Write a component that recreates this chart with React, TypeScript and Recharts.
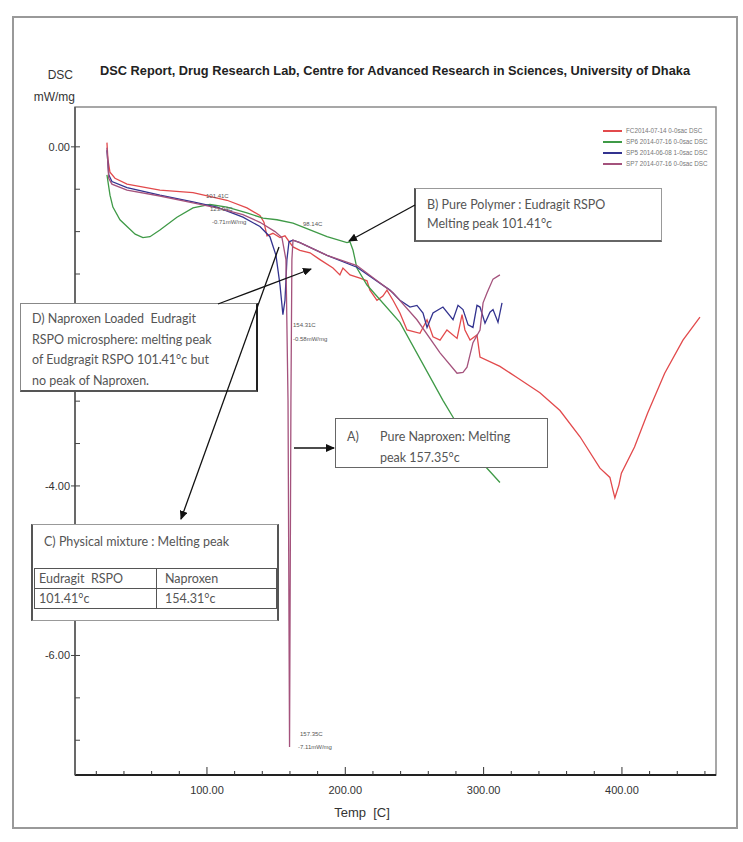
import React from 'react';
import { LineChart, Line, XAxis, YAxis, ReferenceArea, Legend } from 'recharts';

// axis ranges and ticks
const tempDomain = [4.6, 468];
const dscDomain = [-7.41, 0.47];
const tempTicks = [20, 40, 60, 80, 100, 120, 140, 160, 180, 200, 220, 240, 260, 280, 300, 320, 340, 360, 380, 400, 420, 440, 460];
const tempMajor = [100, 200, 300, 400];
const dscTicks = [0, -0.5, -1, -1.5, -2, -2.5, -3, -3.5, -4, -4.5, -5, -5.5, -6, -6.5, -7];
const dscMajor = [0, -2, -4, -6];
const dscHiddenLabels = [-2]; // covered by box D in the original

const seriesNames = [
  'FC2014-07-14 0-0sac DSC',
  'SP6 2014-07-16 0-0sac DSC',
  'SP5 2014-06-08 1-0sac DSC',
  'SP7 2014-07-16 0-0sac DSC',
];
const seriesColors = ['#e24a4c', '#3f9a47', '#33338f', '#a4527c'];

// D) naproxen loaded microsphere (red)
const microTemp = [27.7, 28.4, 29.9, 33.5, 42.2, 66.0, 89.9, 114.5, 128.9, 138.3, 141.2, 143.4, 147.7, 152.8, 156.4, 162.2, 167.2, 174.5, 181.7, 191.1, 196.1, 198.3, 203.4, 210.6, 215.7, 217.8, 222.9, 227.2, 230.1, 234.5, 239.5, 244.6, 254.0, 259.1, 263.4, 268.5, 273.5, 280.8, 284.4, 286.5, 290.2, 295.2, 297.4, 311.8, 324.1, 340.7, 355.2, 369.7, 384.1, 391.3, 393.5, 394.9, 397.8, 399.6, 409.1, 418.6, 430.9, 444.1, 456.4];
const microDsc = [0.05, -0.15, -0.30, -0.37, -0.44, -0.51, -0.54, -0.63, -0.72, -0.81, -0.89, -1.05, -1.02, -1.07, -1.05, -1.18, -1.22, -1.25, -1.33, -1.43, -1.51, -1.43, -1.51, -1.55, -1.58, -1.69, -1.81, -1.76, -1.69, -1.81, -1.96, -2.16, -2.20, -2.04, -2.24, -2.28, -2.16, -2.26, -1.98, -2.16, -2.28, -2.22, -2.48, -2.59, -2.72, -2.90, -3.11, -3.42, -3.79, -3.90, -4.05, -4.14, -3.99, -3.85, -3.54, -3.14, -2.67, -2.28, -2.01];

// B) pure polymer (green)
const polymerTemp = [27.7, 29.9, 32.0, 37.1, 42.2, 48.1, 53.7, 58.8, 66.0, 78.3, 89.9, 102.2, 114.5, 128.9, 140.5, 150.6, 162.2, 174.5, 186.8, 201.2, 203.4, 205.6, 208.4, 215.7, 239.5, 270.6, 277.9, 297.4, 311.8];
const polymerDsc = [-0.33, -0.57, -0.71, -0.86, -0.94, -1.03, -1.07, -1.06, -0.98, -0.83, -0.72, -0.68, -0.71, -0.78, -0.84, -0.86, -0.90, -0.98, -1.06, -1.13, -1.12, -1.22, -1.43, -1.63, -2.07, -2.99, -3.19, -3.70, -3.96];

// C) physical mixture (navy)
const mixtureTemp = [27.7, 29.0, 31.3, 42.2, 66.0, 89.9, 107.2, 126.0, 138.3, 145.5, 149.9, 152.8, 154.9, 156.4, 157.8, 159.3, 162.2, 167.2, 186.8, 208.4, 232.3, 239.5, 246.8, 251.8, 256.2, 259.1, 263.4, 270.6, 277.9, 281.5, 285.1, 288.8, 292.3, 295.2, 297.4, 301.0, 304.6, 306.8, 310.4, 313.3];
const mixtureDsc = [-0.04, -0.33, -0.41, -0.48, -0.57, -0.65, -0.71, -0.83, -0.94, -1.06, -1.28, -1.63, -1.98, -1.81, -1.33, -1.12, -1.10, -1.13, -1.28, -1.42, -1.69, -1.81, -1.89, -1.87, -1.96, -2.13, -1.96, -1.89, -2.04, -1.87, -1.92, -2.10, -2.13, -1.87, -1.89, -2.08, -1.95, -1.92, -2.07, -1.84];

// A) pure naproxen (mauve)
const naproxenTemp = [27.7, 29.0, 31.3, 42.2, 66.0, 89.9, 107.2, 126.0, 138.3, 149.2, 154.2, 157.1, 158.6, 159.7, 160.7, 161.4, 162.2, 167.2, 186.8, 208.4, 234.5, 251.8, 268.5, 280.8, 285.1, 288.0, 292.3, 297.4, 299.6, 302.5, 306.8, 311.8];
const naproxenDsc = [-0.01, -0.37, -0.44, -0.51, -0.58, -0.66, -0.72, -0.80, -0.89, -1.00, -1.07, -1.33, -2.99, -7.08, -2.99, -1.33, -1.10, -1.13, -1.28, -1.40, -1.72, -2.04, -2.43, -2.67, -2.66, -2.60, -2.31, -2.16, -1.84, -1.72, -1.56, -1.51];

const zip = (t: number[], d: number[]) =>
  t.slice(0, Math.min(t.length, d.length)).map((temp, i) => ({ temp, dsc: d[i] }));

const series = [
  zip(microTemp, microDsc),
  zip(polymerTemp, polymerDsc),
  zip(mixtureTemp, mixtureDsc),
  zip(naproxenTemp, naproxenDsc),
];

const narrow = "'Liberation Sans Narrow', 'Liberation Sans', Arial, sans-serif";
const note = "Lato, 'Open Sans', sans-serif";

const XTick = (props: any) => {
  const { x, y, payload } = props;
  const major = tempMajor.includes(payload.value);
  return (
    <g>
      <line x1={x} x2={x} y1={y} y2={y - (major ? 8 : 4)} stroke="#333" strokeWidth={1} />
      {major && (
        <text x={x} y={y + 19} textAnchor="middle" fontSize={11} fill="#333" fontFamily={narrow}>
          {payload.value.toFixed(2)}
        </text>
      )}
    </g>
  );
};

const YTick = (props: any) => {
  const { x, y, payload } = props;
  const major = dscMajor.includes(payload.value);
  const showLabel = major && !dscHiddenLabels.includes(payload.value);
  return (
    <g>
      <line x1={major ? x - 4 : x} x2={x + 5} y1={y} y2={y} stroke="#444" strokeWidth={1} />
      {showLabel && (
        <text x={x - 5} y={y + 4} textAnchor="end" fontSize={11} fill="#333" fontFamily={narrow}>
          {payload.value.toFixed(2)}
        </text>
      )}
    </g>
  );
};

const renderLegend = (props: any) => {
  const items = [...props.payload].sort(
    (a: any, b: any) => seriesNames.indexOf(a.value) - seriesNames.indexOf(b.value)
  );
  return (
    <div>
      {items.map((p: any) => (
        <div key={p.value} style={{ display: 'flex', alignItems: 'center', height: 11 }}>
          <span style={{ width: 19, height: 2, background: p.color, marginRight: 4 }} />
          <span style={{ fontSize: 6.3, color: '#777', fontFamily: narrow, whiteSpace: 'nowrap' }}>{p.value}</span>
        </div>
      ))}
    </div>
  );
};

const peakLabels = [
  { x: 206, y: 198, text: '101.41C' },
  { x: 210, y: 211, text: '123.94C' },
  { x: 212, y: 224, text: '-0.71mW/mg' },
  { x: 303, y: 226, text: '98.14C' },
  { x: 293, y: 327, text: '154.31C' },
  { x: 293, y: 341, text: '-0.58mW/mg' },
  { x: 300, y: 736, text: '157.35C' },
  { x: 298, y: 749, text: '-7.11mW/mg' },
];

const arrows = [
  { x1: 294, y1: 448, x2: 334, y2: 448 },
  { x1: 415, y1: 205, x2: 349, y2: 241 },
  { x1: 279, y1: 247, x2: 181, y2: 519 },
  { x1: 218, y1: 304, x2: 311, y2: 269 },
];

const box = (style: React.CSSProperties): React.CSSProperties => ({
  position: 'absolute',
  background: '#fff',
  boxSizing: 'border-box',
  fontFamily: note,
  fontSize: 12.5,
  color: '#555',
  ...style,
});

export default function App() {
  return (
    <div style={{ position: 'absolute', left: 0, top: 0, width: 743, height: 842, background: '#fff', overflow: 'hidden' }}>
      <div style={{ position: 'absolute', left: 12, top: 16, width: 726, height: 813, border: '2px solid #999', boxSizing: 'border-box' }} />
      <div style={{ position: 'absolute', left: 0, top: 0 }}>
        <LineChart width={743} height={842} margin={{ top: 107, right: 27, left: 15, bottom: 37 }}>
          <ReferenceArea
            x1={tempDomain[0]}
            x2={tempDomain[1]}
            y1={dscDomain[0]}
            y2={dscDomain[1]}
            fill="none"
            stroke="#8a8a8a"
            strokeWidth={1.5}
            ifOverflow="extendDomain"
          />
          <XAxis
            dataKey="temp"
            type="number"
            domain={tempDomain}
            ticks={tempTicks}
            interval={0}
            allowDataOverflow
            height={30}
            tickSize={0}
            tickMargin={0}
            tickLine={false}
            tick={<XTick />}
            axisLine={{ stroke: '#222', strokeWidth: 2 }}
          />
          <YAxis
            type="number"
            domain={dscDomain}
            ticks={dscTicks}
            interval={0}
            allowDataOverflow
            width={60}
            tickSize={0}
            tickMargin={0}
            tickLine={false}
            tick={<YTick />}
            axisLine={{ stroke: '#555', strokeWidth: 1.5 }}
          />
          <Legend
            layout="vertical"
            align="center"
            verticalAlign="middle"
            content={renderLegend}
            wrapperStyle={{ left: 603, top: 125, width: 120, height: 46 }}
          />
          {series.map((data, i) => (
            <Line
              key={seriesNames[i]}
              data={data}
              dataKey="dsc"
              name={seriesNames[i]}
              type="linear"
              stroke={seriesColors[i]}
              strokeWidth={1.3}
              dot={false}
              isAnimationActive={false}
            />
          ))}
        </LineChart>
      </div>

      {/* annotation boxes */}
      <div style={box({ left: 414, top: 188, width: 248, height: 54, border: '1px solid #999', borderLeft: '2px solid #555', borderBottom: '2px solid #666', padding: '6px 0 0 11px', lineHeight: '19px' })}>
        B) Pure Polymer : Eudragit RSPO<br />Melting peak 101.41°c
      </div>
      <div style={box({ left: 20, top: 303, width: 238, height: 89, border: '1.5px solid #888', borderRight: '2.5px solid #222', borderBottom: '2px solid #555', padding: '5px 0 0 11px', lineHeight: '20.5px' })}>
        D) Naproxen Loaded&nbsp; Eudragit<br />RSPO microsphere: melting peak<br />of Eudgragit RSPO 101.41°c but<br />no peak of Naproxen.
      </div>
      <div style={box({ left: 335, top: 418, width: 213, height: 50, border: '1.5px solid #666', padding: '7px 0 0 11px', lineHeight: '21px' })}>
        <div style={{ display: 'flex' }}><span style={{ width: 33 }}>A)</span><span>Pure Naproxen: Melting</span></div>
        <div style={{ paddingLeft: 33 }}>peak 157.35°c</div>
      </div>
      <div style={box({ left: 31, top: 524, width: 248, height: 97, border: '1.5px solid #999', borderLeft: '2px solid #555', borderRight: '2px solid #555' })}>
        <div style={{ position: 'absolute', left: 11, top: 9 }}>C) Physical mixture : Melting peak</div>
        <table style={{ position: 'absolute', left: 1, top: 43, width: 243, borderCollapse: 'collapse', fontSize: 12.5, fontFamily: note, color: '#555' }}>
          <tbody>
            <tr style={{ height: 20 }}>
              <td style={{ border: '1.5px solid #555', padding: '0 0 0 4px', width: 117 }}>Eudragit&nbsp; RSPO</td>
              <td style={{ border: '1.5px solid #555', padding: '0 0 0 8px' }}>Naproxen</td>
            </tr>
            <tr style={{ height: 20 }}>
              <td style={{ border: '1.5px solid #555', padding: '0 0 0 4px' }}>101.41°c</td>
              <td style={{ border: '1.5px solid #555', padding: '0 0 0 8px' }}>154.31°c</td>
            </tr>
          </tbody>
        </table>
      </div>

      {/* texts and arrows on top */}
      <svg width={743} height={842} style={{ position: 'absolute', left: 0, top: 0, pointerEvents: 'none' }}>
        <defs>
          <marker id="ah" markerWidth={9} markerHeight={8} refX={8} refY={4} orient="auto" markerUnits="userSpaceOnUse">
            <path d="M0,0 L9,4 L0,8 z" fill="#111" />
          </marker>
        </defs>
        <text x={100} y={75} fontFamily={narrow} fontWeight="bold" fontSize={13.5} fill="#222" textLength={590} lengthAdjust="spacingAndGlyphs">
          DSC Report, Drug Research Lab, Centre for Advanced Research in Sciences, University of Dhaka
        </text>
        <text x={73} y={79} textAnchor="end" fontFamily={narrow} fontSize={12} fill="#333">DSC</text>
        <text x={75} y={101} textAnchor="end" fontFamily={narrow} fontSize={12} fill="#333">mW/mg</text>
        <text x={362} y={817} textAnchor="middle" fontFamily={narrow} fontSize={13} fill="#333">Temp&nbsp; [C]</text>
        {peakLabels.map((l) => (
          <text key={l.text + l.y} x={l.x} y={l.y} fontFamily={narrow} fontSize={6} fill="#555">{l.text}</text>
        ))}
        {arrows.map((a, i) => (
          <line key={i} x1={a.x1} y1={a.y1} x2={a.x2} y2={a.y2} stroke="#111" strokeWidth={1.3} markerEnd="url(#ah)" />
        ))}
      </svg>
    </div>
  );
}
